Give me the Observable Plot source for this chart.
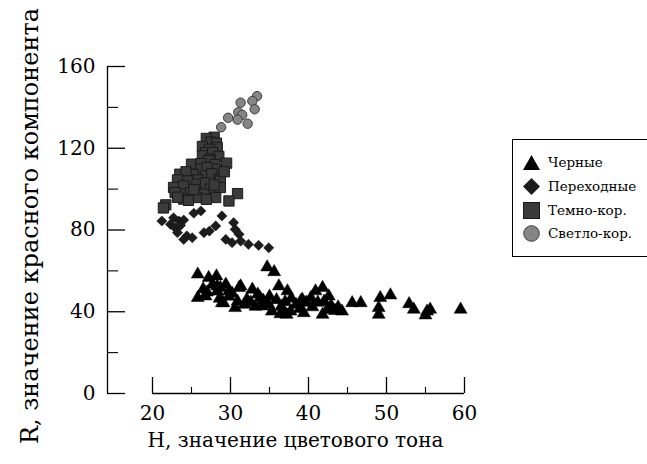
<!DOCTYPE html>
<html>
<head>
<meta charset="utf-8">
<script src="https://cdn.jsdelivr.net/npm/d3@7"></script>
<script src="https://cdn.jsdelivr.net/npm/@observablehq/plot@0.6"></script>
<style>
  html, body { margin: 0; padding: 0; background: #fff; }
  #wrap { position: relative; width: 647px; height: 464px; overflow: hidden; font-family: "DejaVu Serif", serif; }
  #legend { position: absolute; left: 512px; top: 139px; width: 140px; height: 118px; border: 1.5px solid #000; box-sizing: border-box; background: #fff; }
  .item { position: absolute; left: 0; height: 22px; display: flex; align-items: center; font-size: 13.5px; color: #000; font-family: "DejaVu Serif", serif; }
  .item svg { margin-left: 10px; margin-right: 8px; }
</style>
</head>
<body>
<div id="wrap"></div>
<script>
// ---- data (H = hue, R = red component) ----
const seriesNames = ["Черные", "Переходные", "Темно-кор.", "Светло-кор."];

const chernyeH = [25.8,27.2,28.2,34.7,35.6,25.8,26.8,27.7,28.3,29.4,30.2,31.3,32.8,33.5,36.2,37.3,40.9,41.8,42.6,39.0,39.7,29.1,30.6,32.1,33.8,34.9,35.3,36.8,37.7,39.4,41.8,42.4,44.3,45.6,46.7,49.2,50.5,49.0,49.0,52.9,53.5,55.2,55.6,55.0,59.5,28.6,29.8,30.9,31.8,32.6,33.2,34.2,35.0,35.9,36.5,37.0,37.8,38.4,38.9,40.3,40.5,41.2,42.0,42.9,43.4,43.8,37.2,36.4,26.5,27.0,28.7,29.8,28.3,31.1,28.9,34.1,36.6,39.2,43.0];
const chernyeR = [58.3,56.6,57.4,61.8,59.5,46.8,47.6,53.3,50.0,53.3,49.0,52.5,50.9,48.5,52.5,50.1,50.1,51.7,47.6,45.2,44.5,44.3,41.9,46.0,46.8,43.5,40.2,39.4,40.2,39.4,38.6,41.1,40.2,44.3,44.3,46.8,48.1,41.9,38.6,43.8,41.1,40.2,41.1,38.3,41.1,46.5,47.5,45.0,43.5,44.5,42.5,45.5,47.5,45.8,42.5,44.8,46.5,43.5,41.5,46.8,42.3,44.5,45.0,43.0,40.5,42.2,38.6,38.9,51.0,49.5,51.7,50.0,52.5,51.7,44.3,42.7,39.4,46.0,41.1];

const perekhodH = [26.2,25.3,28.9,21.2,22.7,23.4,24.0,22.3,22.9,23.6,30.4,28.1,30.6,27.3,26.6,23.2,24.4,24.0,25.1,31.1,29.4,30.2,31.3,32.3,33.6,34.9];
const perekhodR = [89.3,88.2,86.9,84.4,86.0,84.4,84.9,82.8,81.1,82.3,83.6,82.0,80.3,79.5,78.7,78.7,77.1,75.4,76.2,77.9,75.4,73.8,74.6,73.0,72.5,71.3];

const temnoH = [27.9,26.9,27.5,28.2,26.4,28.3,27.3,26.8,27.7,26.4,28.5,27.4,27.2,29.5,25.0,26.2,28.0,28.1,26.2,27.0,23.5,25.2,24.3,26.8,27.6,28.5,28.7,25.8,24.5,23.2,22.7,24.0,25.7,26.8,27.4,28.7,23.6,22.9,24.9,26.6,28.1,30.9,29.8,21.7,21.4,24.0,25.7,24.6,26.9,23.2,29.2,27.9,25.3];
const temnoR = [125.4,124.8,123.0,122.5,120.9,120.4,119.5,117.8,117.9,116.3,116.0,114.7,113.9,112.7,112.2,112.5,112.0,109.8,109.8,110.5,107.3,107.3,108.5,106.5,107.5,104.9,104.0,104.5,104.0,104.5,100.8,101.6,102.4,103.0,100.0,100.8,97.5,98.3,98.3,97.5,95.9,97.8,94.2,92.3,90.8,95.1,95.9,94.5,95.0,96.0,108.5,102.0,99.8];

const svetloH = [33.4,32.8,33.1,31.3,31.0,31.5,29.7,30.9,32.2,28.8];
const svetloR = [145.5,143.1,139.1,142.3,137.6,136.3,134.9,134.0,132.0,130.3];

const xMajor = [20, 30, 40, 50, 60];
const xMinor = [25, 35, 45, 55];
const yMajor = [0, 40, 80, 120, 160];
const yMinor = [20, 60, 100, 140];

const xTitle = "H, значение цветового тона";
const yTitle = "R, значение красного компонента";

const pts = (H, R) => H.map((h, i) => ({h, r: R[i]}));
const black = pts(chernyeH, chernyeR);
const trans = pts(perekhodH, perekhodR);
const dark = pts(temnoH, temnoR);
const light = pts(svetloH, svetloR);

// layout
const W = 647, H = 464;
const mL = 107, mR = 183, mT = 66, mB = 71;
const xRange = [152, 464];
const yAxisAt = xMajor[0] - (xRange[0] - mL) * (xMajor[4] - xMajor[0]) / (xRange[1] - xRange[0]);
const frameW = W - mL - mR, frameH = H - mT - mB;
const font = "DejaVu Serif";

const chart = Plot.plot({
  width: W, height: H,
  marginLeft: mL, marginRight: mR, marginTop: mT, marginBottom: mB,
  style: {background: "#fff", color: "#000", fontFamily: font},
  x: {domain: [xMajor[0], xMajor[4]], range: xRange, axis: null},
  y: {domain: [yMajor[0], yMajor[4]], axis: null},
  marks: [
    Plot.ruleY([0], {x1: xMajor[0], x2: xMajor[4], stroke: "#000", strokeWidth: 1.3}),
    Plot.ruleX([yAxisAt], {y1: yMajor[0], y2: yMajor[4], stroke: "#000", strokeWidth: 1.3}),
    Plot.tickY(yMajor, {y: d => d, insetRight: frameW - 18, stroke: "#000", strokeWidth: 1.3}),
    Plot.tickY(yMinor, {y: d => d, insetRight: frameW - 11, stroke: "#000", strokeWidth: 1.1}),
    Plot.tickX(xMajor, {x: d => d, insetTop: frameH - 16, stroke: "#000", strokeWidth: 1.3}),
    Plot.tickX(xMinor, {x: d => d, insetTop: frameH - 6, stroke: "#000", strokeWidth: 1.1}),
    Plot.text(yMajor, {y: d => d, text: d => String(d), frameAnchor: "left", dx: -12, textAnchor: "end", fontSize: 20, fontFamily: font, fill: "#000"}),
    Plot.text(xMajor, {x: d => d, text: d => String(d), frameAnchor: "bottom", dy: 26, fontSize: 20, fontFamily: font, fill: "#000"}),
    Plot.text([xTitle], {frameAnchor: "bottom", textAnchor: "middle", dx: 9.5, dy: 53, fontSize: 20, fontFamily: font, fill: "#000"}),
    Plot.text([yTitle], {frameAnchor: "left", textAnchor: "middle", dx: -77, dy: -4, rotate: -90, fontSize: 24, fontFamily: font, fill: "#000"}),
    Plot.dot(black, {x: "h", y: "r", symbol: "triangle", r: 4.8, fill: "#000", stroke: "#000", strokeWidth: 0.5}),
    Plot.dot(trans, {x: "h", y: "r", symbol: "diamond2", r: 4.6, fill: "#1c1c1c", stroke: "#111", strokeWidth: 0.5}),
    Plot.dot(dark, {x: "h", y: "r", symbol: "square", r: 5.8, fill: "#3a3a3a", stroke: "#1a1a1a", strokeWidth: 1}),
    Plot.dot(light, {x: "h", y: "r", symbol: "circle", r: 4.7, fill: "#858585", stroke: "#3c3c3c", strokeWidth: 1})
  ]
});

const wrap = document.getElementById("wrap");
wrap.appendChild(chart);

const legend = document.createElement("div");
legend.id = "legend";
const sym = [
  '<polygon points="8.5,1 17,16 0,16" fill="#000"/>',
  '<polygon points="8.5,0 17,8.5 8.5,17 0,8.5" fill="#1c1c1c"/>',
  '<rect x="0.5" y="0.5" width="16" height="16" fill="#3a3a3a" stroke="#1a1a1a" stroke-width="1"/>',
  '<circle cx="8.5" cy="8.5" r="7.8" fill="#858585" stroke="#3c3c3c" stroke-width="1"/>'
];
const tops = [11, 35, 59, 82];
seriesNames.forEach((name, i) => {
  const it = document.createElement("div");
  it.className = "item";
  it.style.top = tops[i] + "px";
  it.innerHTML = `<svg width="17" height="17" viewBox="0 0 17 17">${sym[i]}</svg><span>${name}</span>`;
  legend.appendChild(it);
});
wrap.appendChild(legend);
</script>
</body>
</html>
